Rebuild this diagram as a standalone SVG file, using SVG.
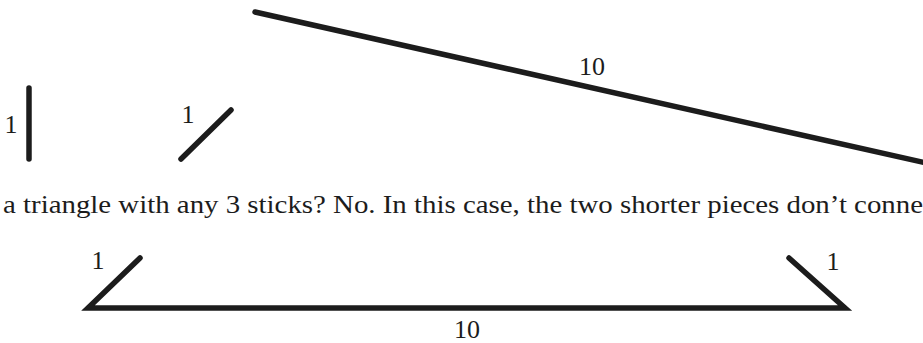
<svg xmlns="http://www.w3.org/2000/svg" width="923" height="343" viewBox="0 0 923 343">
<style>
.stick{stroke:#1c1c1c;stroke-width:5.5;stroke-linecap:round;fill:none}
.lbl{font-family:'Liberation Serif','Times New Roman',serif;font-size:26px;fill:#1c1c1c;text-anchor:middle}
.body{font-family:'Liberation Serif','Times New Roman',serif;font-size:25px;fill:#1c1c1c}
</style>
<rect width="923" height="343" fill="#ffffff"/>
<g id="connectors">
<line class="stick" x1="255" y1="12" x2="935" y2="165"/>
<line class="stick" x1="29" y1="88" x2="29" y2="159"/>
<line class="stick" x1="181" y1="159" x2="231" y2="110"/>
<polyline class="stick" points="140,258 88,308 845,308 789,258" stroke-linejoin="miter"/>
</g>
<g id="labels-top">
<text class="lbl" x="592" y="75">10</text>
<text class="lbl" x="11" y="133">1</text>
<text class="lbl" x="188" y="123">1</text>
</g>
<g id="caption">
<text class="body" x="3" y="213" textLength="920" lengthAdjust="spacingAndGlyphs">a triangle with any 3 sticks? No. In this case, the two shorter pieces don’t conne</text>
</g>
<g id="labels-bottom">
<text class="lbl" x="98" y="269">1</text>
<text class="lbl" x="833" y="270">1</text>
<text class="lbl" x="467" y="338">10</text>
</g>
</svg>
